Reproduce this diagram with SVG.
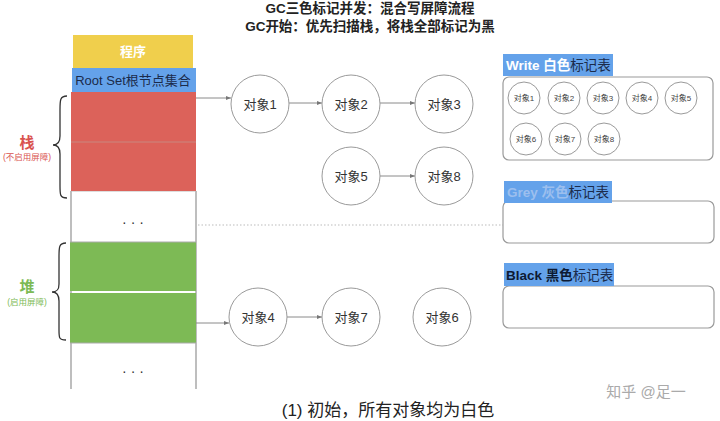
<svg xmlns="http://www.w3.org/2000/svg" width="720" height="421" viewBox="0 0 720 421">
<defs>
<style>
text{font-family:"Liberation Sans","Noto Sans CJK SC",sans-serif;}
.title{font-size:13.5px;font-weight:bold;fill:#222;text-anchor:middle;}
.obj{fill:#fff;stroke:#9a9a9a;stroke-width:1;}
.ot{font-size:13px;fill:#333;text-anchor:middle;dominant-baseline:central;}
.st{font-size:8px;fill:#444;text-anchor:middle;dominant-baseline:central;}
.edge{stroke:#8a8a8a;stroke-width:1;fill:none;marker-end:url(#ah);}
.col{stroke:#a8a8a8;stroke-width:1.5;}
.tbl{fill:#fff;stroke:#9a9a9a;stroke-width:1.2;}
.lbl{fill:#64a2ea;}
.lt{font-size:13.5px;}
.brace{fill:none;stroke:#333;stroke-width:1.3;}
</style>
<marker id="ah" markerWidth="6" markerHeight="6" refX="5" refY="3" orient="auto" markerUnits="userSpaceOnUse">
<path d="M0,1 L5,3 L0,5 Z" fill="#777"/>
</marker>
</defs>
<rect width="720" height="421" fill="#fff"/>

<g id="title">
<text class="title" x="370" y="13">GC三色标记并发：混合写屏障流程</text>
<text class="title" x="370" y="31">GC开始：优先扫描栈，将栈全部标记为黑</text>
</g>

<g id="stack-column">
<line class="col" x1="71" y1="191" x2="71" y2="389"/>
<line class="col" x1="196" y1="191" x2="196" y2="389"/>
<line x1="71" y1="191" x2="196" y2="191" stroke="#bbb" stroke-width="1"/>
<text x="133" y="227" font-size="14" fill="#333" text-anchor="middle">· · ·</text>
<text x="133" y="376" font-size="14" fill="#333" text-anchor="middle">· · ·</text>
</g>

<g id="program">
<rect x="73" y="35" width="120" height="33" fill="#f0cf4c"/>
<text x="133" y="56" font-size="13" fill="#fff" text-anchor="middle" font-weight="bold">程序</text>
</g>
<g id="rootset">
<rect x="72" y="68" width="124" height="24" fill="#64a2ea"/>
<text x="133" y="85" font-size="13" fill="#1b2b4b" text-anchor="middle">Root Set根节点集合</text>
</g>
<g id="stack-frames">
<rect x="71" y="92" width="125" height="50" fill="#dc625a"/>
<rect x="71" y="142" width="125" height="49" fill="#dc625a"/>
<line x1="71" y1="142" x2="196" y2="142" stroke="#c9877f" stroke-width="1"/>
</g>
<g id="heap-frames">
<rect x="70" y="242" width="126" height="49" fill="#7dba55"/>
<rect x="70" y="293" width="126" height="50" fill="#7dba55"/>
<line x1="70" y1="242" x2="196" y2="242" stroke="#aaa" stroke-width="1"/>
<line x1="70" y1="343" x2="196" y2="343" stroke="#aaa" stroke-width="1"/>
</g>

<g id="stack-label">
<path class="brace" d="M67,96 C60,96 60,100 60,110 L60,136 C60,142 58,145 53,145 C58,145 60,148 60,154 L60,186 C60,195 60,198 67,198"/>
<text x="27" y="148" font-size="15" font-weight="bold" fill="#d9534f" text-anchor="middle">栈</text>
<text x="27" y="160" font-size="8.5" fill="#d9534f" text-anchor="middle">(不启用屏障)</text>
</g>
<g id="heap-label">
<path class="brace" d="M66,243 C59,243 59,247 59,257 L59,284 C59,290 57,292 52,292 C57,292 59,295 59,301 L59,330 C59,338 59,340 66,340"/>
<text x="27" y="292" font-size="15" font-weight="bold" fill="#7dba55" text-anchor="middle">堆</text>
<text x="27" y="305" font-size="8.5" fill="#7dba55" text-anchor="middle">(启用屏障)</text>
</g>

<g id="connectors">
<line class="edge" x1="196" y1="98" x2="231" y2="98"/>
<line class="edge" x1="289" y1="103" x2="322" y2="103"/>
<line class="edge" x1="380" y1="103" x2="415" y2="103"/>
<line class="edge" x1="380" y1="176" x2="415" y2="176"/>
<line class="edge" x1="196" y1="323" x2="229" y2="323"/>
<line class="edge" x1="287" y1="317" x2="322" y2="317"/>
<line x1="198" y1="225" x2="503" y2="225" stroke="#bbb" stroke-width="1" stroke-dasharray="1.5,2"/>
</g>

<g id="obj1"><circle class="obj" cx="260" cy="104" r="29"/><text class="ot" x="260" y="104">对象1</text></g>
<g id="obj2"><circle class="obj" cx="351" cy="104" r="29"/><text class="ot" x="351" y="104">对象2</text></g>
<g id="obj3"><circle class="obj" cx="444" cy="104" r="29"/><text class="ot" x="444" y="104">对象3</text></g>
<g id="obj5"><circle class="obj" cx="351" cy="176" r="29"/><text class="ot" x="351" y="176">对象5</text></g>
<g id="obj8"><circle class="obj" cx="444" cy="176" r="29"/><text class="ot" x="444" y="176">对象8</text></g>
<g id="obj4"><circle class="obj" cx="258" cy="317" r="29"/><text class="ot" x="258" y="317">对象4</text></g>
<g id="obj7"><circle class="obj" cx="351" cy="317" r="29"/><text class="ot" x="351" y="317">对象7</text></g>
<g id="obj6"><circle class="obj" cx="442" cy="317" r="29"/><text class="ot" x="442" y="317">对象6</text></g>

<g id="white-table">
<rect class="tbl" x="503" y="77" width="210" height="83" rx="6"/>
<rect class="lbl" x="503" y="54" width="110" height="22"/>
<text class="lt" x="506" y="70"><tspan fill="#fff" font-weight="bold">Write 白色</tspan><tspan fill="#1b2b4b">标记表</tspan></text>
<circle class="obj" cx="524" cy="98" r="16"/><text class="st" x="524" y="98">对象1</text>
<circle class="obj" cx="564" cy="98" r="16"/><text class="st" x="564" y="98">对象2</text>
<circle class="obj" cx="603" cy="98" r="16"/><text class="st" x="603" y="98">对象3</text>
<circle class="obj" cx="642" cy="98" r="16"/><text class="st" x="642" y="98">对象4</text>
<circle class="obj" cx="681" cy="98" r="16"/><text class="st" x="681" y="98">对象5</text>
<circle class="obj" cx="526" cy="139" r="16"/><text class="st" x="526" y="139">对象6</text>
<circle class="obj" cx="565" cy="139" r="16"/><text class="st" x="565" y="139">对象7</text>
<circle class="obj" cx="604" cy="139" r="16"/><text class="st" x="604" y="139">对象8</text>
</g>

<g id="grey-table">
<rect class="tbl" x="503" y="201" width="211" height="42" rx="6"/>
<rect class="lbl" x="504" y="181" width="108" height="22"/>
<text class="lt" x="507" y="197"><tspan fill="#9cbfee" font-weight="bold">Grey 灰色</tspan><tspan fill="#1b2b4b">标记表</tspan></text>
</g>

<g id="black-table">
<rect class="tbl" x="503" y="286" width="211" height="42" rx="6"/>
<rect class="lbl" x="504" y="263" width="110" height="23"/>
<text class="lt" x="506" y="280"><tspan fill="#0d1a33" font-weight="bold">Black 黑色</tspan><tspan fill="#1b2b4b">标记表</tspan></text>
</g>

<g id="caption">
<text x="388" y="416" font-size="17" fill="#222" text-anchor="middle">(1) 初始，所有对象均为白色</text>
</g>
<g id="watermark">
<text x="646" y="397" font-size="15" fill="#aaa" text-anchor="middle">知乎 @足一</text>
</g>
</svg>
